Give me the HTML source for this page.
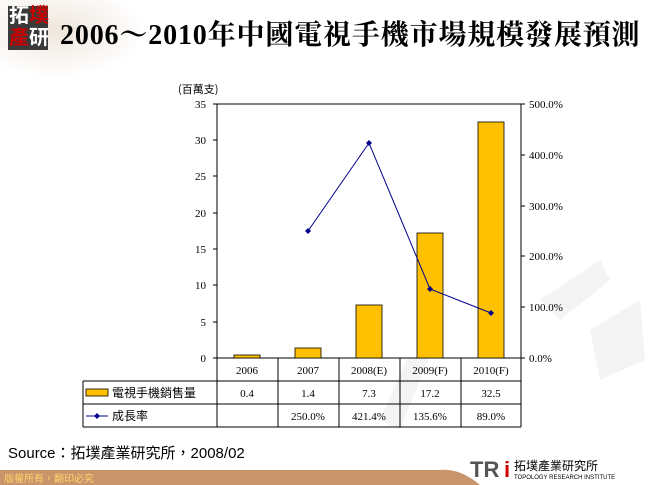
<!DOCTYPE html>
<html><head><meta charset="utf-8"><style>
body{margin:0;width:650px;height:485px;overflow:hidden;background:#fff;position:relative;font-family:"Liberation Serif","Noto Serif CJK SC",serif}
.abs{position:absolute}
</style></head><body>
<div class="abs" style="left:0;top:0;width:140px;height:75px;background:radial-gradient(ellipse at 40% 40%,#efe6dc,#fff 75%)"></div>
<div class="abs" style="left:8px;top:6px;width:40px;height:44px;background:#3a3a3a"></div>
<div class="abs" style="left:9px;top:3px;font:bold 20px 'Noto Sans CJK TC',sans-serif;color:#fff;line-height:22px;width:48px">拓<span style="color:#c00">墣</span><br><span style="color:#c00">產</span>研</div>
<div class="abs" style="left:60px;top:13px;font-size:28px;font-weight:bold;color:#000;font-family:'Liberation Serif','Noto Serif CJK SC',serif;letter-spacing:0.85px;white-space:nowrap">2006～2010年中國電視手機市場規模發展預測</div>
<svg class="abs" style="left:0;top:0" width="650" height="485">
<g fill="#f4f4f4" stroke="none"><path d="M380 420 L420 330 L440 330 L400 430Z"/><path d="M540 300 L600 260 L610 280 L560 320Z"/><path d="M590 330 L640 300 L645 360 L600 380Z"/></g>
<text x="178" y="93" font-size="11" font-family="Noto Sans CJK TC,sans-serif">(百萬支)</text>
<rect x="217" y="104" width="304" height="254" fill="#fff" stroke="#000" stroke-width="1"/>
<g font-size="11" text-anchor="end" font-family="Liberation Serif">
<text x="206" y="362">0</text><text x="206" y="326">5</text><text x="206" y="289">10</text><text x="206" y="253">15</text><text x="206" y="217">20</text><text x="206" y="180">25</text><text x="206" y="144">30</text><text x="206" y="108">35</text>
</g>
<g stroke="#000"><line x1="213" x2="217" y1="358" y2="358"/><line x1="213" x2="217" y1="322" y2="322"/><line x1="213" x2="217" y1="285" y2="285"/><line x1="213" x2="217" y1="249" y2="249"/><line x1="213" x2="217" y1="213" y2="213"/><line x1="213" x2="217" y1="176" y2="176"/><line x1="213" x2="217" y1="140" y2="140"/><line x1="213" x2="217" y1="104" y2="104"/>
<line x1="521" x2="525" y1="358" y2="358"/><line x1="521" x2="525" y1="307" y2="307"/><line x1="521" x2="525" y1="256" y2="256"/><line x1="521" x2="525" y1="206" y2="206"/><line x1="521" x2="525" y1="155" y2="155"/><line x1="521" x2="525" y1="104" y2="104"/></g>
<g font-size="11" font-family="Liberation Serif"><text x="529" y="362">0.0%</text><text x="529" y="311">100.0%</text><text x="529" y="260">200.0%</text><text x="529" y="210">300.0%</text><text x="529" y="159">400.0%</text><text x="529" y="108">500.0%</text></g>
<g fill="#ffc000" stroke="#000" stroke-width="0.8">
<rect x="234" y="355" width="26" height="3"/><rect x="295" y="348" width="26" height="10"/><rect x="356" y="305" width="26" height="53"/><rect x="417" y="233" width="26" height="125"/><rect x="478" y="122" width="26" height="236"/></g>
<polyline points="308,231 369,143 430,289 491,313" fill="none" stroke="#00008b" stroke-width="1"/>
<g fill="#00008b"><path d="M308 228l3 3-3 3-3-3z"/><path d="M369 140l3 3-3 3-3-3z"/><path d="M430 286l3 3-3 3-3-3z"/><path d="M491 310l3 3-3 3-3-3z"/></g>
<g stroke="#000" fill="none"><path d="M217 358V427M278 358V427M339 358V427M400 358V427M461 358V427M521 358V427M83 381H521M83 404H521M83 427H521M83 381V427"/></g>
<g font-size="11" text-anchor="middle" font-family="Liberation Serif">
<text x="247" y="374">2006</text><text x="308" y="374">2007</text><text x="369" y="374">2008(E)</text><text x="430" y="374">2009(F)</text><text x="491" y="374">2010(F)</text>
<text x="247" y="397">0.4</text><text x="308" y="397">1.4</text><text x="369" y="397">7.3</text><text x="430" y="397">17.2</text><text x="491" y="397">32.5</text>
<text x="308" y="420">250.0%</text><text x="369" y="420">421.4%</text><text x="430" y="420">135.6%</text><text x="491" y="420">89.0%</text></g>
<rect x="86" y="389" width="22" height="7" fill="#ffc000" stroke="#000" stroke-width="0.8"/>
<line x1="86" x2="108" y1="416" y2="416" stroke="#00008b"/><path d="M97 413l3 3-3 3-3-3z" fill="#00008b"/>
<g font-size="12" font-family="Noto Sans CJK TC,sans-serif"><text x="112" y="397">電視手機銷售量</text><text x="112" y="420">成長率</text></g>
<text x="8" y="458" font-size="15" font-family="Liberation Sans,Noto Sans CJK TC,sans-serif">Source：拓墣產業研究所，2008/02</text>
<path d="M0 470 H440 Q460 468 480 485 H0Z" fill="#c8956a"/>
<text x="4" y="482" font-size="10" fill="#ffd36a" font-family="Noto Sans CJK TC,sans-serif">版權所有，翻印必究</text>
<text x="470" y="477" font-size="22" font-weight="bold" fill="#555" font-family="Liberation Sans">TR</text><text x="504" y="477" font-size="22" font-weight="bold" fill="#c00" font-family="Liberation Sans">i</text>
<text x="514" y="470" font-size="12" font-family="Noto Sans CJK TC,sans-serif">拓墣產業研究所</text>
<text x="514" y="479" font-size="6" font-family="Liberation Sans">TOPOLOGY RESEARCH INSTITUTE</text>
</svg>
</body></html>
